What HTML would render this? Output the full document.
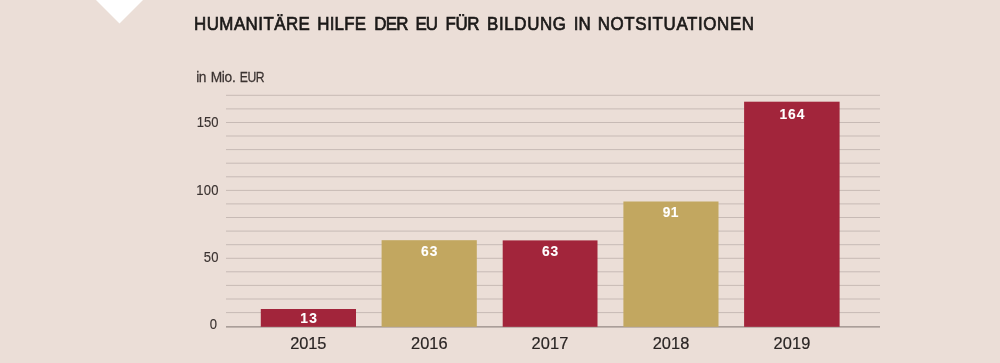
<!DOCTYPE html>
<html>
<head>
<meta charset="utf-8">
<style>
html,body{margin:0;padding:0;}
body{width:1000px;height:363px;overflow:hidden;background:#ebded7;position:relative;}
svg{position:absolute;left:0;top:0;will-change:transform;}
text{font-family:"Liberation Sans",sans-serif;}
</style>
</head>
<body>
<svg width="1000" height="363" viewBox="0 0 1000 363">
  <rect x="0" y="0" width="1000" height="363" fill="#ebded7"/>
  <polygon points="96,0 143,0 119.5,23.5" fill="#ffffff"/>
  <g stroke="#c7bab5" stroke-width="1.0">
    <line x1="226" y1="95.3" x2="880" y2="95.3"/>
    <line x1="226" y1="108.9" x2="880" y2="108.9"/>
    <line x1="226" y1="122.5" x2="880" y2="122.5"/>
    <line x1="226" y1="136.0" x2="880" y2="136.0"/>
    <line x1="226" y1="149.6" x2="880" y2="149.6"/>
    <line x1="226" y1="163.2" x2="880" y2="163.2"/>
    <line x1="226" y1="176.8" x2="880" y2="176.8"/>
    <line x1="226" y1="190.4" x2="880" y2="190.4"/>
    <line x1="226" y1="203.9" x2="880" y2="203.9"/>
    <line x1="226" y1="217.5" x2="880" y2="217.5"/>
    <line x1="226" y1="231.1" x2="880" y2="231.1"/>
    <line x1="226" y1="244.7" x2="880" y2="244.7"/>
    <line x1="226" y1="258.3" x2="880" y2="258.3"/>
    <line x1="226" y1="271.8" x2="880" y2="271.8"/>
    <line x1="226" y1="285.4" x2="880" y2="285.4"/>
    <line x1="226" y1="299.0" x2="880" y2="299.0"/>
    <line x1="226" y1="312.6" x2="880" y2="312.6"/>
  </g>
  <line x1="226" y1="326.8" x2="880" y2="326.8" stroke="#958985" stroke-width="1.3"/>
  <rect x="260.8" y="309" width="95.2" height="17.8" fill="#a2253b"/>
  <rect x="381.6" y="240.2" width="95.2" height="86.6" fill="#c2a760"/>
  <rect x="502.7" y="240.4" width="94.8" height="86.4" fill="#a2253b"/>
  <rect x="623.4" y="201.5" width="95.1" height="125.3" fill="#c2a760"/>
  <rect x="744.1" y="101.7" width="95.5" height="225.1" fill="#a2253b"/>
  <text transform="scale(0.92,1)" x="210.93" y="29.70" font-size="18.4" font-weight="normal" fill="#1c1a19" stroke="#1c1a19" stroke-width="0.7" textLength="125.87" lengthAdjust="spacing">HUMANITÄRE</text>
  <text transform="scale(0.92,1)" x="344.79" y="29.70" font-size="18.4" font-weight="normal" fill="#1c1a19" stroke="#1c1a19" stroke-width="0.7" textLength="53.15" lengthAdjust="spacing">HILFE</text>
  <text transform="scale(0.92,1)" x="406.87" y="29.70" font-size="18.4" font-weight="normal" fill="#1c1a19" stroke="#1c1a19" stroke-width="0.7" textLength="37.00" lengthAdjust="spacing">DER</text>
  <text transform="scale(0.92,1)" x="451.60" y="29.70" font-size="18.4" font-weight="normal" fill="#1c1a19" stroke="#1c1a19" stroke-width="0.7" textLength="24.54" lengthAdjust="spacing">EU</text>
  <text transform="scale(0.92,1)" x="484.37" y="29.70" font-size="18.4" font-weight="normal" fill="#1c1a19" stroke="#1c1a19" stroke-width="0.7" textLength="36.75" lengthAdjust="spacing">FÜR</text>
  <text transform="scale(0.92,1)" x="529.47" y="29.70" font-size="18.4" font-weight="normal" fill="#1c1a19" stroke="#1c1a19" stroke-width="0.7" textLength="85.71" lengthAdjust="spacing">BILDUNG</text>
  <text transform="scale(0.92,1)" x="623.59" y="29.70" font-size="18.4" font-weight="normal" fill="#1c1a19" stroke="#1c1a19" stroke-width="0.7" textLength="18.59" lengthAdjust="spacing">IN</text>
  <text transform="scale(0.92,1)" x="649.71" y="29.70" font-size="18.4" font-weight="normal" fill="#1c1a19" stroke="#1c1a19" stroke-width="0.7" textLength="169.97" lengthAdjust="spacing">NOTSITUATIONEN</text>
  <text transform="scale(0.95,1)" x="206.71" y="81.60" font-size="14.5" font-weight="normal" fill="#3b3331" stroke="#3b3331" stroke-width="0.25" textLength="10.57" lengthAdjust="spacing">in</text>
  <text transform="scale(0.95,1)" x="221.76" y="81.60" font-size="14.5" font-weight="normal" fill="#3b3331" stroke="#3b3331" stroke-width="0.25" textLength="26.49" lengthAdjust="spacing">Mio.</text>
  <text transform="scale(0.84,1)" x="285.54" y="81.60" font-size="14.5" font-weight="normal" fill="#3b3331" stroke="#3b3331" stroke-width="0.25" textLength="29.34" lengthAdjust="spacing">EUR</text>
  <text transform="scale(0.92,1)" x="213.80" y="126.60" font-size="14.2" font-weight="normal" fill="#3b3331" stroke="#3b3331" stroke-width="0.15" textLength="23.79" lengthAdjust="spacing">150</text>
  <text transform="scale(0.92,1)" x="213.41" y="194.60" font-size="14.2" font-weight="normal" fill="#3b3331" stroke="#3b3331" stroke-width="0.15" textLength="24.02" lengthAdjust="spacing">100</text>
  <text transform="scale(0.92,1)" x="221.43" y="261.80" font-size="14.2" font-weight="normal" fill="#3b3331" stroke="#3b3331" stroke-width="0.15" textLength="16.22" lengthAdjust="spacing">50</text>
  <text transform="scale(0.92,1)" x="228.12" y="329.20" font-size="14.2" font-weight="normal" fill="#3b3331" stroke="#3b3331" stroke-width="0.15" textLength="9.75" lengthAdjust="spacing">0</text>
  <text transform="scale(1.0,1)" x="290.28" y="348.70" font-size="16.4" font-weight="normal" fill="#2a2524" stroke="#2a2524" stroke-width="0.2" textLength="36.13" lengthAdjust="spacing">2015</text>
  <text transform="scale(1.0,1)" x="410.99" y="348.70" font-size="16.4" font-weight="normal" fill="#2a2524" stroke="#2a2524" stroke-width="0.2" textLength="36.59" lengthAdjust="spacing">2016</text>
  <text transform="scale(1.0,1)" x="531.58" y="348.70" font-size="16.4" font-weight="normal" fill="#2a2524" stroke="#2a2524" stroke-width="0.2" textLength="36.71" lengthAdjust="spacing">2017</text>
  <text transform="scale(1.0,1)" x="652.73" y="348.70" font-size="16.4" font-weight="normal" fill="#2a2524" stroke="#2a2524" stroke-width="0.2" textLength="36.53" lengthAdjust="spacing">2018</text>
  <text transform="scale(1.0,1)" x="773.43" y="348.70" font-size="16.4" font-weight="normal" fill="#2a2524" stroke="#2a2524" stroke-width="0.2" textLength="36.85" lengthAdjust="spacing">2019</text>
  <text transform="scale(1.0,1)" x="300.35" y="322.70" font-size="13.8" font-weight="bold" fill="#ffffff" stroke="#ffffff" stroke-width="0.1" textLength="16.70" lengthAdjust="spacing">13</text>
  <text transform="scale(1.0,1)" x="420.91" y="256.10" font-size="13.8" font-weight="bold" fill="#ffffff" stroke="#ffffff" stroke-width="0.1" textLength="16.42" lengthAdjust="spacing">63</text>
  <text transform="scale(1.0,1)" x="541.95" y="256.10" font-size="13.8" font-weight="bold" fill="#ffffff" stroke="#ffffff" stroke-width="0.1" textLength="16.23" lengthAdjust="spacing">63</text>
  <text transform="scale(1.0,1)" x="662.81" y="216.70" font-size="13.8" font-weight="bold" fill="#ffffff" stroke="#ffffff" stroke-width="0.1" textLength="15.54" lengthAdjust="spacing">91</text>
  <text transform="scale(1.0,1)" x="779.44" y="118.90" font-size="13.8" font-weight="bold" fill="#ffffff" stroke="#ffffff" stroke-width="0.1" textLength="24.99" lengthAdjust="spacing">164</text>
</svg>
</body>
</html>
